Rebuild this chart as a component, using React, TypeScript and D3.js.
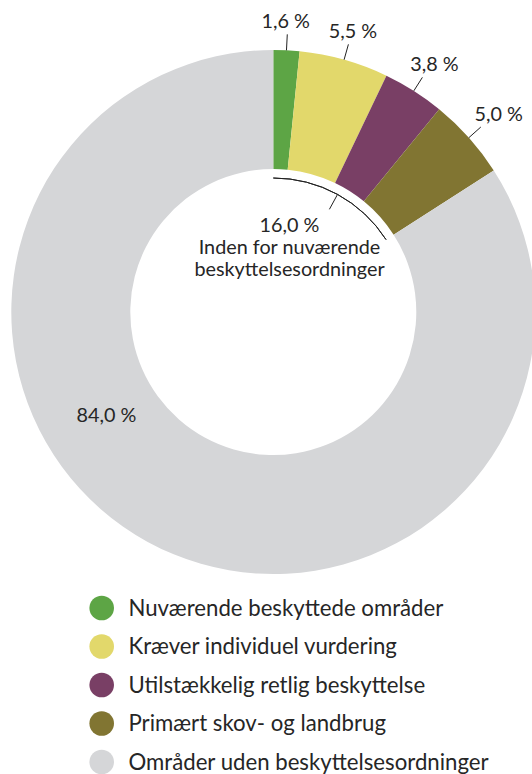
import React from "react";
import * as d3 from "d3";

const categories = [
  "Nuværende beskyttede områder",
  "Kræver individuel vurdering",
  "Utilstækkelig retlig beskyttelse",
  "Primært skov- og landbrug",
  "Områder uden beskyttelsesordninger",
];
const values = [1.6, 5.5, 3.8, 5.0, 84.0];
const valueLabels = ["1,6 %", "5,5 %", "3,8 %", "5,0 %", "84,0 %"];
const colors = ["#5da545", "#e2d86b", "#793f65", "#817532", "#d5d6d8"];
const groupLabel = ["16,0 %", "Inden for nuværende", "beskyttelsesordninger"];

const W = 532;
const H = 774;
const FONT = "Lato, 'Open Sans', sans-serif";
const TEXT = "#262626";

export default function App() {
  const cx = 273.3;
  const cy = 312;
  const R = 262;
  const r = 143;

  const pie = d3.pie<number>().sort(null).value((d) => d);
  const arcs = pie(values);
  const arcGen = d3.arc<d3.PieArcDatum<number>>().innerRadius(r).outerRadius(R);

  const pt = (a: number, rad: number): [number, number] => [
    cx + rad * Math.sin(a),
    cy - rad * Math.cos(a),
  ];

  const groupEnd = arcs[3].endAngle;
  const innerArcR = 134;
  const bracket = d3
    .arc()
    .innerRadius(innerArcR)
    .outerRadius(innerArcR)
    .startAngle(0)
    .endAngle(groupEnd)({} as any) as string;
  const midG = groupEnd / 2;
  const t1 = pt(midG, innerArcR);
  const t2 = pt(midG, 117);

  const legendY = d3
    .scalePoint<string>()
    .domain(categories)
    .range([608, 762]);

  const labelSize = 19.8;

  return (
    <svg
      width={W}
      height={H}
      style={{ position: "absolute", left: 0, top: 0, background: "#fff" }}
      fontFamily={FONT}
    >
      <g transform={`translate(${cx},${cy})`}>
        {arcs.map((a, i) => (
          <path key={i} d={arcGen(a) as string} fill={colors[i]} />
        ))}
        <path d={bracket} fill="none" stroke="#222" strokeWidth={1} />
      </g>
      <line x1={t1[0]} y1={t1[1]} x2={t2[0]} y2={t2[1]} stroke="#222" strokeWidth={1} />

      {arcs.slice(0, 4).map((a, i) => {
        const m = (a.startAngle + a.endAngle) / 2;
        const p1 = pt(m, R);
        const p2 = pt(m, R + 16);
        const lx = p2[0] + Math.sin(m) * 28 - 3;
        const ly = p2[1] - 6;
        return (
          <g key={i}>
            <line x1={p1[0]} y1={p1[1]} x2={p2[0]} y2={p2[1]} stroke="#222" strokeWidth={1} />
            <text x={lx} y={ly} textAnchor="middle" fontSize={labelSize} fill={TEXT}>
              {valueLabels[i]}
            </text>
          </g>
        );
      })}

      <text x={106.5} y={421.5} textAnchor="middle" fontSize={labelSize} fill={TEXT}>
        {valueLabels[4]}
      </text>

      {groupLabel.map((t, i) => (
        <text
          key={i}
          x={289.5}
          y={232 + i * 22}
          textAnchor="middle"
          fontSize={labelSize}
          fill={TEXT}
        >
          {t}
        </text>
      ))}

      {categories.map((c, i) => {
        const y = legendY(c) as number;
        return (
          <g key={i}>
            <circle cx={101.7} cy={y} r={12.3} fill={colors[i]} />
            <text x={128.5} y={y + 7.5} fontSize={22.2} fill={TEXT}>
              {c}
            </text>
          </g>
        );
      })}
    </svg>
  );
}
